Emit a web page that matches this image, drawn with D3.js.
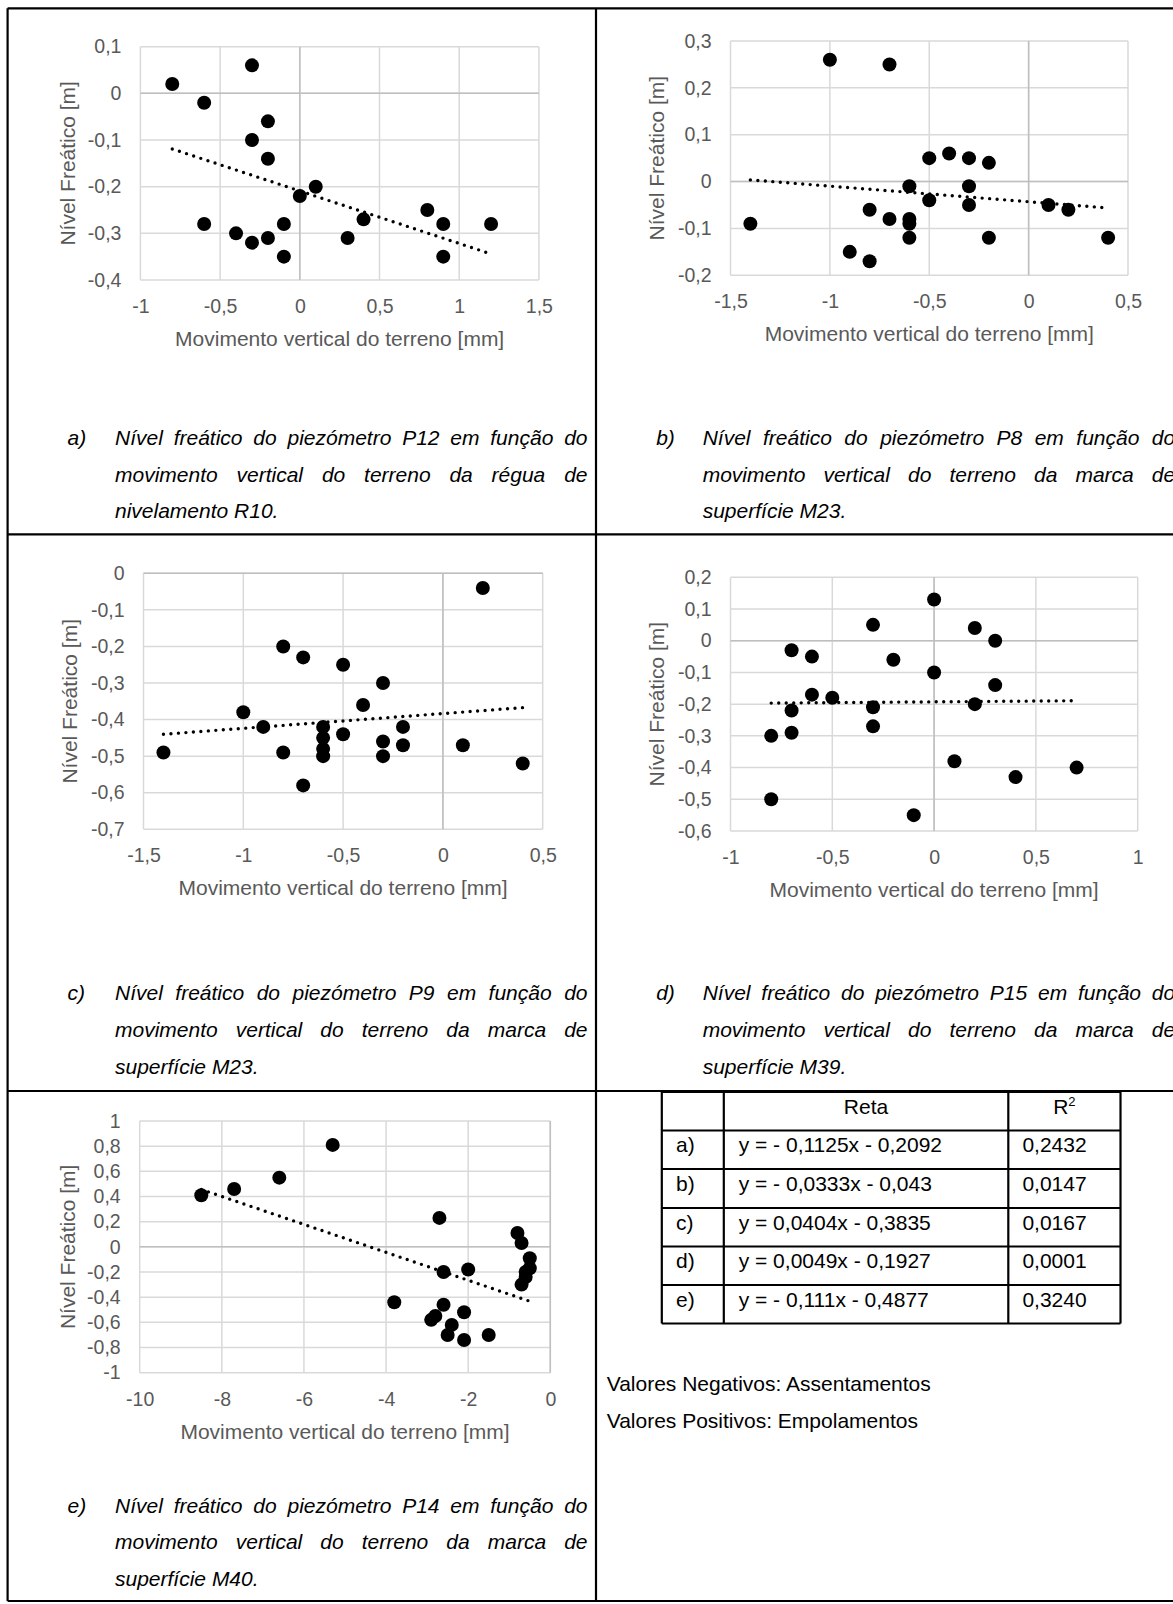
<!DOCTYPE html>
<html>
<head>
<meta charset="utf-8">
<script src="https://cdn.jsdelivr.net/npm/d3@7"></script>
<style>
  body { margin: 0; background: #fff; }
  svg { display: block; }
</style>
</head>
<body>
<svg id="fig" width="1173" height="1604"></svg>
<script>
// ---- Data: water level (Nível Freático, m) vs vertical ground movement (mm) ----

// a) P12 vs levelling rod R10
const aMov = [-0.8, -0.3, -0.6, -0.2, -0.3, -0.2, 0.1, 0.0, 0.8, -0.6, 0.4, -0.1, 0.9, 1.2, -0.4, -0.3, -0.2, 0.3, -0.1, 0.9];
const aNiv = [0.02, 0.06, -0.02, -0.06, -0.10, -0.14, -0.20, -0.22, -0.25, -0.28, -0.27, -0.28, -0.28, -0.28, -0.30, -0.32, -0.31, -0.31, -0.35, -0.35];

// b) P8 vs surface mark M23
const bMov = [-1.0, -0.7, -0.4, -0.5, -0.3, -0.2, -0.6, -0.3, -0.5, -0.3, 0.1, 0.2, -0.8, -0.7, -0.6, -0.6, -1.4, -0.6, -0.2, 0.4, -0.9, -0.8];
const bNiv = [0.26, 0.25, 0.06, 0.05, 0.05, 0.04, -0.01, -0.01, -0.04, -0.05, -0.05, -0.06, -0.06, -0.08, -0.08, -0.09, -0.09, -0.12, -0.12, -0.12, -0.15, -0.17];

// c) P9 vs surface mark M23
const cMov = [0.2, -0.8, -0.7, -0.5, -0.3, -0.4, -1.0, -0.9, -0.6, -0.2, -0.5, -0.6, -0.3, -0.2, 0.1, -0.6, -1.4, -0.8, -0.6, -0.3, 0.4, -0.7];
const cNiv = [-0.04, -0.20, -0.23, -0.25, -0.30, -0.36, -0.38, -0.42, -0.42, -0.42, -0.44, -0.45, -0.46, -0.47, -0.47, -0.48, -0.49, -0.49, -0.50, -0.50, -0.52, -0.58];

// d) P15 vs surface mark M39
const dMov = [0.0, -0.3, 0.2, 0.3, -0.7, -0.6, -0.2, 0.0, 0.3, -0.6, -0.5, 0.2, -0.3, -0.7, -0.3, -0.7, -0.8, 0.1, 0.7, 0.4, -0.8, -0.1];
const dNiv = [0.13, 0.05, 0.04, 0.00, -0.03, -0.05, -0.06, -0.10, -0.14, -0.17, -0.18, -0.20, -0.21, -0.22, -0.27, -0.29, -0.30, -0.38, -0.40, -0.43, -0.50, -0.55];

// e) P14 vs surface mark M40
const eMov = [-5.3, -6.6, -7.7, -8.5, -2.7, -0.8, -0.7, -0.5, -0.5, -0.6, -0.6, -0.7, -2.6, -2.0, -3.8, -2.6, -2.1, -2.8, -2.9, -2.4, -2.5, -1.5, -2.1];
const eNiv = [0.81, 0.55, 0.46, 0.41, 0.23, 0.11, 0.03, -0.09, -0.17, -0.20, -0.24, -0.30, -0.20, -0.18, -0.44, -0.46, -0.52, -0.55, -0.58, -0.62, -0.70, -0.70, -0.74];

// Linear fits (Reta) and coefficients of determination
const fitLabels = ["a)", "b)", "c)", "d)", "e)"];
const fitSlopes = [-0.1125, -0.0333, 0.0404, 0.0049, -0.111];
const fitIntercepts = [-0.2092, -0.043, -0.3835, -0.1927, -0.4877];
const fitR2 = [0.2432, 0.0147, 0.0167, 0.0001, 0.3240];

// Axis tick values
const aXTicks = [-1, -0.5, 0, 0.5, 1, 1.5];
const aYTicks = [-0.4, -0.3, -0.2, -0.1, 0, 0.1];
const bXTicks = [-1.5, -1, -0.5, 0, 0.5];
const bYTicks = [-0.2, -0.1, 0, 0.1, 0.2, 0.3];
const cXTicks = [-1.5, -1, -0.5, 0, 0.5];
const cYTicks = [-0.7, -0.6, -0.5, -0.4, -0.3, -0.2, -0.1, 0];
const dXTicks = [-1, -0.5, 0, 0.5, 1];
const dYTicks = [-0.6, -0.5, -0.4, -0.3, -0.2, -0.1, 0, 0.1, 0.2];
const eXTicks = [-10, -8, -6, -4, -2, 0];
const eYTicks = [-1, -0.8, -0.6, -0.4, -0.2, 0, 0.2, 0.4, 0.6, 0.8, 1];

// Text
const xTitle = "Movimento vertical do terreno [mm]";
const yTitle = "Nível Freático [m]";
const captions = [
  ["Nível freático do piezómetro P12 em função do", "movimento vertical do terreno da régua de", "nivelamento R10."],
  ["Nível freático do piezómetro P8 em função do", "movimento vertical do terreno da marca de", "superfície M23."],
  ["Nível freático do piezómetro P9 em função do", "movimento vertical do terreno da marca de", "superfície M23."],
  ["Nível freático do piezómetro P15 em função do", "movimento vertical do terreno da marca de", "superfície M39."],
  ["Nível freático do piezómetro P14 em função do", "movimento vertical do terreno da marca de", "superfície M40."]
];
const tableHeader = ["", "Reta", "R"];
const notes = ["Valores Negativos: Assentamentos", "Valores Positivos: Empolamentos"];

// ---- Rendering ----
const FONT = '"Liberation Sans", Arial, Helvetica, sans-serif';
const GREY_TEXT = "#595959";
const GRID = "#d9d9d9";
const AXIS = "#bfbfbf";

const locale = d3.formatLocale({ decimal: ",", thousands: ".", grouping: [3], currency: ["", ""], minus: "-" });
const fmtTick = locale.format("~g");
const fmtCoef = v => String(Math.abs(v)).replace(".", ",");
const fmtR2 = locale.format(".4f");

const svg = d3.select("#fig");

// Panel layout boxes (pixels)
const panels = [
  { mov: aMov, niv: aNiv, xt: aXTicks, yt: aYTicks, fit: 0, box: { l: 140.4, r: 538.9, t: 46.7, b: 280 }, yTitleX: 68 },
  { mov: bMov, niv: bNiv, xt: bXTicks, yt: bYTicks, fit: 1, box: { l: 730.5, r: 1128, t: 41, b: 275.3 }, yTitleX: 657 },
  { mov: cMov, niv: cNiv, xt: cXTicks, yt: cYTicks, fit: 2, box: { l: 143.5, r: 542.7, t: 573.3, b: 829.3 }, yTitleX: 69.5 },
  { mov: dMov, niv: dNiv, xt: dXTicks, yt: dYTicks, fit: 3, box: { l: 730.5, r: 1137.7, t: 577.3, b: 831 }, yTitleX: 657 },
  { mov: eMov, niv: eNiv, xt: eXTicks, yt: eYTicks, fit: 4, box: { l: 139.7, r: 550.3, t: 1121, b: 1372.7 }, yTitleX: 68 }
];

function drawPanel(p) {
  const B = p.box;
  const x = d3.scaleLinear().domain([p.xt[0], p.xt[p.xt.length - 1]]).range([B.l, B.r]);
  const y = d3.scaleLinear().domain([p.yt[0], p.yt[p.yt.length - 1]]).range([B.b, B.t]);
  const g = svg.append("g");

  // gridlines
  const grid = g.append("g").attr("stroke", GRID).attr("stroke-width", 1.5);
  grid.selectAll("line.gx").data(p.xt).join("line").attr("class", "gx")
    .attr("x1", d => x(d)).attr("x2", d => x(d)).attr("y1", B.t).attr("y2", B.b);
  grid.selectAll("line.gy").data(p.yt).join("line").attr("class", "gy")
    .attr("x1", B.l).attr("x2", B.r).attr("y1", d => y(d)).attr("y2", d => y(d));

  // axis lines crossing at zero
  const ax = g.append("g").attr("stroke", AXIS).attr("stroke-width", 1.5);
  ax.append("line").attr("x1", x(0)).attr("x2", x(0)).attr("y1", B.t).attr("y2", B.b);
  ax.append("line").attr("x1", B.l).attr("x2", B.r).attr("y1", y(0)).attr("y2", y(0));

  // tick labels
  const xa = g.append("g").attr("transform", `translate(0,${B.b})`)
    .call(d3.axisBottom(x).tickValues(p.xt).tickFormat(fmtTick).tickSize(0).tickPadding(19));
  const ya = g.append("g").attr("transform", `translate(${B.l},0)`)
    .call(d3.axisLeft(y).tickValues(p.yt).tickFormat(fmtTick).tickSize(0).tickPadding(19));
  [xa, ya].forEach(a => {
    a.select(".domain").remove();
    a.attr("font-family", FONT).attr("font-size", 19.5);
    a.selectAll("text").attr("fill", GREY_TEXT);
  });

  // axis titles
  g.append("text").attr("x", (B.l + B.r) / 2).attr("y", B.b + 66)
    .attr("text-anchor", "middle").attr("font-family", FONT).attr("font-size", 21)
    .attr("fill", GREY_TEXT).text(xTitle);
  g.append("text").attr("transform", `translate(${p.yTitleX},${(B.t + B.b) / 2}) rotate(-90)`)
    .attr("dy", "0.35em").attr("text-anchor", "middle").attr("font-family", FONT).attr("font-size", 21)
    .attr("fill", GREY_TEXT).text(yTitle);

  // points
  const pts = p.mov.map((m, i) => [m, p.niv[i]]);
  g.append("g").selectAll("circle").data(pts).join("circle")
    .attr("cx", d => x(d[0])).attr("cy", d => y(d[1])).attr("r", 7).attr("fill", "#000");

  // dotted linear trendline from the fitted equation
  const m = fitSlopes[p.fit], c = fitIntercepts[p.fit];
  const ext = d3.extent(p.mov);
  const line = d3.line().x(d => x(d)).y(d => y(m * d + c));
  g.append("path").attr("d", line(ext)).attr("fill", "none").attr("stroke", "#000")
    .attr("stroke-width", 3.4).attr("stroke-linecap", "round").attr("stroke-dasharray", "0 7.5");
}
panels.forEach(drawPanel);

// ---- Frame of the figure table ----
const frame = svg.append("g").attr("stroke", "#000").attr("stroke-width", 2.2);
const frameLines = [
  [7.6, 8.3, 1173, 8.3],
  [7.6, 8.3, 7.6, 1601],
  [596, 8.3, 596, 1601],
  [7.6, 534.3, 1173, 534.3],
  [7.6, 1091, 1173, 1091],
  [7.6, 1601, 1173, 1601]
];
frame.selectAll("line").data(frameLines).join("line")
  .attr("x1", d => d[0]).attr("y1", d => d[1]).attr("x2", d => d[2]).attr("y2", d => d[3]);

// ---- Captions (justified italic text) ----
const capCols = [{ label: 67.5, text: 115 }, { label: 656.2, text: 702.7 }];
const capRows = [[444.8, 481.5, 518.2], [1000.2, 1036.8, 1074.2], [1512.5, 1549.2, 1585.8]];
const CAP_W = 472.5;
const capPos = [[0, 0], [1, 0], [0, 1], [1, 1], [0, 2]];

captions.forEach((lines, k) => {
  const col = capCols[capPos[k][0]], ys = capRows[capPos[k][1]];
  const g = svg.append("g").attr("font-family", FONT).attr("font-style", "italic")
    .attr("font-size", 21).attr("fill", "#000");
  g.append("text").attr("x", col.label).attr("y", ys[0]).text(fitLabels[k]);
  lines.forEach((ln, i) => {
    if (i === lines.length - 1) {
      g.append("text").attr("x", col.text).attr("y", ys[i]).text(ln);
      return;
    }
    const words = ln.split(" ");
    const nodes = words.map(w => g.append("text").attr("y", ys[i]).text(w));
    const widths = nodes.map(n => n.node().getComputedTextLength());
    const gap = (CAP_W - d3.sum(widths)) / (words.length - 1);
    let xp = col.text;
    nodes.forEach((n, j) => { n.attr("x", xp); xp += widths[j] + gap; });
  });
});

// ---- Table of fitted lines ----
const tCols = [661.8, 723.8, 1008.3, 1120.5];
const tRows = [1092, 1130.5, 1169, 1208, 1246.5, 1285, 1323.5];
const tg = svg.append("g");
const tl = tg.append("g").attr("stroke", "#000").attr("stroke-width", 2.2);
tl.selectAll("line.h").data(tRows).join("line").attr("class", "h")
  .attr("x1", tCols[0]).attr("x2", tCols[3]).attr("y1", d => d).attr("y2", d => d);
tl.selectAll("line.v").data(tCols).join("line").attr("class", "v")
  .attr("x1", d => d).attr("x2", d => d).attr("y1", tRows[0]).attr("y2", tRows[tRows.length - 1]);

const tt = tg.append("g").attr("font-family", FONT).attr("font-size", 21).attr("fill", "#000");
tt.append("text").attr("x", (tCols[1] + tCols[2]) / 2).attr("y", tRows[0] + 21.5)
  .attr("text-anchor", "middle").text(tableHeader[1]);
const r2h = tt.append("text").attr("x", (tCols[2] + tCols[3]) / 2).attr("y", tRows[0] + 21.5)
  .attr("text-anchor", "middle");
r2h.append("tspan").text(tableHeader[2]);
r2h.append("tspan").attr("font-size", 13).attr("dy", -8).text("2");

fitLabels.forEach((lab, i) => {
  const yb = tRows[i + 1] + 21.5;
  const m = fitSlopes[i], c = fitIntercepts[i];
  const eq = `y = ${m < 0 ? "- " : ""}${fmtCoef(m)}x ${c < 0 ? "-" : "+"} ${fmtCoef(c)}`;
  tt.append("text").attr("x", 676).attr("y", yb).text(lab);
  tt.append("text").attr("x", 738.7).attr("y", yb).text(eq);
  tt.append("text").attr("x", 1022.4).attr("y", yb).text(fmtR2(fitR2[i]));
});

// ---- Notes ----
svg.append("g").attr("font-family", FONT).attr("font-size", 21).attr("fill", "#000")
  .selectAll("text").data(notes).join("text")
  .attr("x", 606.7).attr("y", (d, i) => 1391 + i * 36.5).text(d => d);
</script>
</body>
</html>
